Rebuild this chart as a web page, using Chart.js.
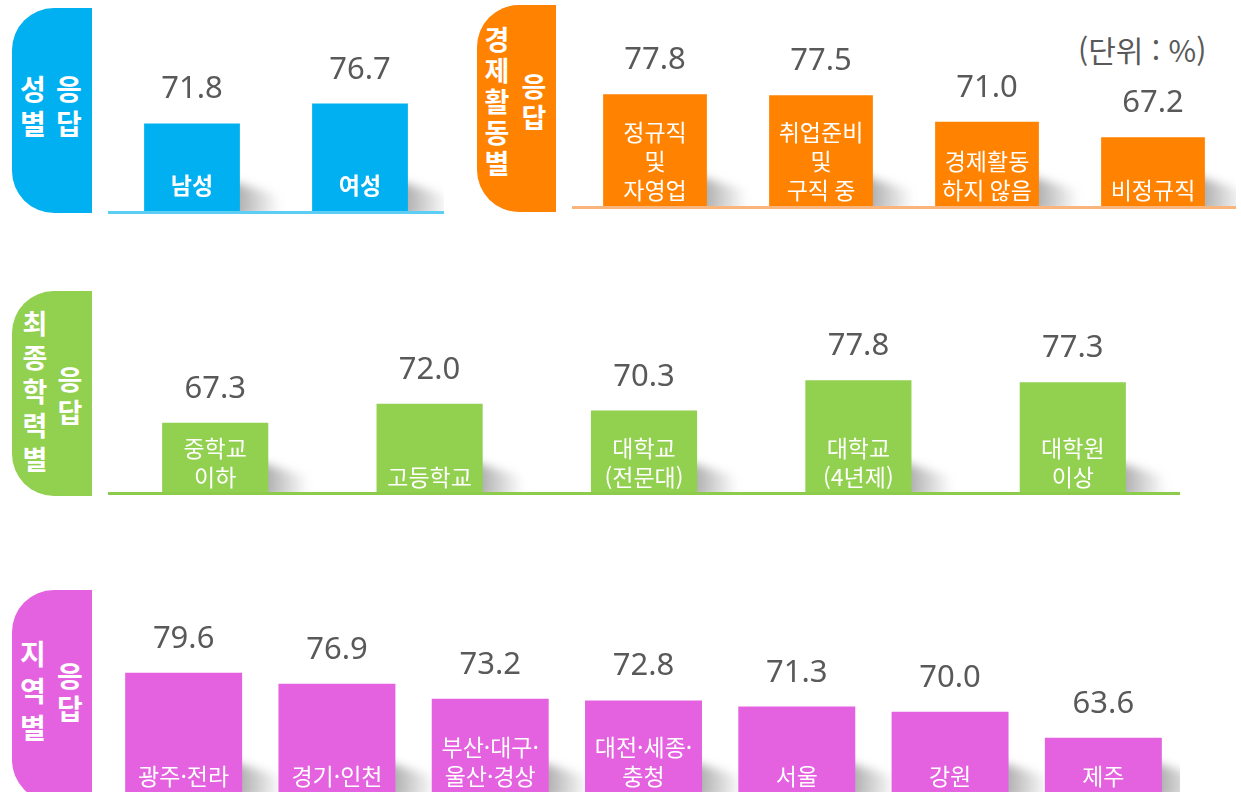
<!DOCTYPE html>
<html lang="ko">
<head>
<meta charset="utf-8">
<script src="https://cdn.jsdelivr.net/npm/chart.js@4/dist/chart.umd.min.js"></script>
<style>
  html, body { margin: 0; padding: 0; background: #fff; overflow: hidden; }
  body { width: 1241px; height: 792px; position: relative; font-family: 'Noto Sans CJK KR', sans-serif; }
  .panel { position: absolute; }
  .tab { position: absolute; border-radius: 42px 0 0 42px; }
  .col { position: absolute; color: #fff; font-weight: 700; text-align: center; width: 32px; }
  .col span { display: block; }
  .unit { position: absolute; left: 1078px; top: 27px; font-size: 30px; color: #595959; }
</style>
</head>
<body>

<div class="tab" style="left:12px;top:8px;width:80px;height:205px;background:#00b0f0"></div>
<div class="col" style="left:17px;top:71px;font-size:28px;line-height:35px"><span>성</span><span>별</span></div>
<div class="col" style="left:53px;top:71px;font-size:28px;line-height:35px"><span>응</span><span>답</span></div>

<div class="tab" style="left:477px;top:5px;width:79px;height:207px;background:#ff8200"></div>
<div class="col" style="left:481px;top:23px;font-size:27px;line-height:31px"><span>경</span><span>제</span><span>활</span><span>동</span><span>별</span></div>
<div class="col" style="left:518px;top:70px;font-size:27px;line-height:31px"><span>응</span><span>답</span></div>

<div class="tab" style="left:12px;top:291px;width:80px;height:205px;background:#92d050"></div>
<div class="col" style="left:19px;top:306px;font-size:27px;line-height:34px"><span>최</span><span>종</span><span>학</span><span>력</span><span>별</span></div>
<div class="col" style="left:54px;top:362px;font-size:27px;line-height:33px"><span>응</span><span>답</span></div>

<div class="tab" style="left:12px;top:590px;width:80px;height:212px;background:#e462e0"></div>
<div class="col" style="left:17px;top:635px;font-size:28px;line-height:37px"><span>지</span><span>역</span><span>별</span></div>
<div class="col" style="left:54px;top:659px;font-size:28px;line-height:33px"><span>응</span><span>답</span></div>

<div class="unit">(단위 : %)</div>

<div class="panel" style="left:108px;top:0px;width:336px;height:216px"><canvas id="gender"></canvas></div>
<div class="panel" style="left:572px;top:0px;width:664px;height:211px"><canvas id="job"></canvas></div>
<div class="panel" style="left:108px;top:300px;width:1072px;height:197px"><canvas id="edu"></canvas></div>
<div class="panel" style="left:107px;top:590px;width:1073px;height:207px"><canvas id="region"></canvas></div>

<script>
const genderCategories = [['남성'], ['여성']];
const genderValues = [71.8, 76.7];

const jobCategories = [['정규직', '및', '자영업'], ['취업준비', '및', '구직 중'], ['경제활동', '하지 않음'], ['비정규직']];
const jobValues = [77.8, 77.5, 71.0, 67.2];

const eduCategories = [['중학교', '이하'], ['고등학교'], ['대학교', '(전문대)'], ['대학교', '(4년제)'], ['대학원', '이상']];
const eduValues = [67.3, 72.0, 70.3, 77.8, 77.3];

const regionCategories = [['광주·전라'], ['경기·인천'], ['부산·대구·', '울산·경상'], ['대전·세종·', '충청'], ['서울'], ['강원'], ['제주']];
const regionValues = [79.6, 76.9, 73.2, 72.8, 71.3, 70.0, 63.6];

const yMin = 50;
const pxPerUnit = 4.06;
const padBottom = 4;

// soft grey shadow to the lower right of each bar
const shadowPlugin = {
    id: 'barShadow',
    beforeDatasetsDraw(chart) {
        const c = chart.ctx;
        const area = chart.chartArea;
        const base = area.bottom;
        chart.getDatasetMeta(0).data.forEach(bar => {
            const right = bar.x + bar.width / 2;
            c.save();
            c.beginPath();
            c.rect(area.left, area.top, area.right - area.left, base - area.top);
            c.clip();
            c.filter = 'blur(5px)';
            const g = c.createLinearGradient(right - 6, 0, right + 40, 0);
            g.addColorStop(0, 'rgba(80,80,80,0.5)');
            g.addColorStop(1, 'rgba(80,80,80,0)');
            c.fillStyle = g;
            c.beginPath();
            c.moveTo(right - 12, base - 32);
            c.lineTo(right + 40, base - 16);
            c.lineTo(right + 40, base + 6);
            c.lineTo(right - 12, base + 6);
            c.closePath();
            c.fill();
            c.restore();
        });
    }
};

const labelPlugin = {
    id: 'barLabels',
    afterDatasetsDraw(chart, args, opts) {
        const c = chart.ctx;
        const area = chart.chartArea;
        const base = area.bottom;
        if (opts.lineColor) {
            c.fillStyle = opts.lineColor;
            c.fillRect(area.left, base - 1, area.right - area.left, 3);
        }
        const cats = chart.data.labels;
        const vals = chart.data.datasets[0].data;
        chart.getDatasetMeta(0).data.forEach((bar, i) => {
            c.save();
            c.textAlign = 'center';
            c.textBaseline = 'alphabetic';
            c.fillStyle = '#595959';
            c.font = '31px "Noto Sans"';
            c.fillText(vals[i].toFixed(1), bar.x, bar.y - 25);

            c.fillStyle = '#ffffff';
            c.textBaseline = 'middle';
            c.font = (opts.bold ? '700 ' : '400 ') + '23px "Noto Sans CJK KR"';
            const lines = cats[i];
            lines.forEach((line, j) => {
                const y = base - opts.labelOffset - (lines.length - 1 - j) * 29;
                c.fillText(line, bar.x, y);
            });
            c.restore();
        });
    }
};

function makePanel(id, categories, values, cfg) {
    const canvas = document.getElementById(id);
    const h = canvas.parentElement.clientHeight;
    const yMax = yMin + (h - padBottom) / pxPerUnit;
    return new Chart(canvas, {
        type: 'bar',
        data: {
            labels: categories,
            datasets: [{
                data: values,
                backgroundColor: cfg.color,
                borderWidth: 0,
                barPercentage: cfg.barPct,
                categoryPercentage: 1
            }]
        },
        options: {
            responsive: true,
            maintainAspectRatio: false,
            animation: false,
            layout: { padding: { top: 0, bottom: padBottom, left: 0, right: 0 } },
            plugins: {
                legend: { display: false },
                tooltip: { enabled: false },
                barLabels: { lineColor: cfg.lineColor, bold: cfg.bold, labelOffset: cfg.labelOffset }
            },
            scales: {
                x: { display: false, offset: true },
                y: { display: false, min: yMin, max: yMax }
            }
        },
        plugins: [shadowPlugin, labelPlugin]
    });
}

makePanel('gender', genderCategories, genderValues, { color: '#00b0f0', lineColor: '#5ccdf4', barPct: 0.57, bold: true, labelOffset: 27 });
makePanel('job', jobCategories, jobValues, { color: '#ff8200', lineColor: '#f9b57c', barPct: 0.625, bold: false, labelOffset: 17 });
makePanel('edu', eduCategories, eduValues, { color: '#92d050', lineColor: '#8dcb4d', barPct: 0.495, bold: false, labelOffset: 16 });
makePanel('region', regionCategories, regionValues, { color: '#e462e0', lineColor: null, barPct: 0.763, bold: false, labelOffset: 17 });
</script>
</body>
</html>
